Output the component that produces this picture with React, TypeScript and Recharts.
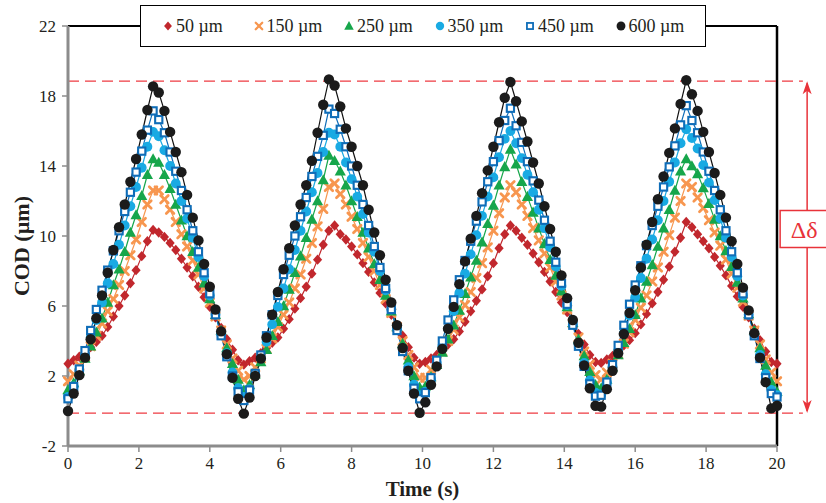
import React from 'react';
import { ComposedChart, Line, XAxis, YAxis, ReferenceLine, Legend } from 'recharts';

// Sampling instants (s)
const time = [
  0, 0.16, 0.32, 0.48, 0.64, 0.8, 0.96, 1.12, 1.28, 1.44, 1.6, 1.76, 1.92, 2.08, 2.24, 2.4,
  2.56, 2.72, 2.88, 3.04, 3.2, 3.36, 3.52, 3.68, 3.84, 4, 4.16, 4.32, 4.48, 4.64, 4.8, 4.96,
  5.12, 5.28, 5.44, 5.6, 5.76, 5.92, 6.08, 6.24, 6.4, 6.56, 6.72, 6.88, 7.04, 7.2, 7.36, 7.52,
  7.68, 7.84, 8, 8.16, 8.32, 8.48, 8.64, 8.8, 8.96, 9.12, 9.28, 9.44, 9.6, 9.76, 9.92,
  10.08, 10.24, 10.4, 10.56, 10.72, 10.88, 11.04, 11.2, 11.36, 11.52, 11.68, 11.84, 12, 12.16,
  12.32, 12.48, 12.64, 12.8, 12.96, 13.12, 13.28, 13.44, 13.6, 13.76, 13.92, 14.08, 14.24,
  14.4, 14.56, 14.72, 14.88,
  15.04, 15.2, 15.36, 15.52, 15.68, 15.84, 16, 16.16, 16.32, 16.48, 16.64, 16.8, 16.96,
  17.12, 17.28, 17.44, 17.6, 17.76, 17.92, 18.08, 18.24, 18.4, 18.56, 18.72, 18.88, 19.04,
  19.2, 19.36, 19.52, 19.68, 19.84, 20,
];

// COD (µm) for each crack length
const cod50 = [
  2.7, 2.9, 3.1, 3.35, 3.65, 3.95, 4.3, 4.8, 5.4, 6.0, 6.6, 7.3, 8.05, 8.85, 9.7, 10.35,
  10.2, 9.95, 9.6, 9.2, 8.7, 8.2, 7.7, 7.1, 6.5, 5.95, 5.35, 4.75, 4.1, 3.5, 2.9, 2.65,
  2.85, 3.05, 3.3, 3.6, 3.9, 4.2, 4.7, 5.25, 5.85, 6.45, 7.1, 7.85, 8.65, 9.5, 10.3, 10.6,
  10.1, 9.8, 9.4, 8.95, 8.45, 7.95, 7.35, 6.75, 6.15, 5.5, 4.9, 4.3, 3.65, 3.05, 2.7,
  2.8, 3.0, 3.2, 3.5, 3.8, 4.1, 4.55, 5.1, 5.7, 6.3, 6.95, 7.7, 8.45, 9.3, 10.1, 10.6,
  10.3, 9.9, 9.5, 9.0, 8.5, 7.95, 7.4, 6.8, 6.2, 5.65, 5.05, 4.4, 3.8, 3.2, 2.8,
  2.75, 2.95, 3.15, 3.45, 3.75, 4.05, 4.45, 4.95, 5.55, 6.15, 6.8, 7.5, 8.25, 9.1, 9.9, 10.8,
  10.5, 10.1, 9.7, 9.3, 8.8, 8.3, 7.75, 7.15, 6.55, 5.95, 5.35, 4.7, 4.05, 3.4, 2.8,
  2.7,
];

const cod150 = [
  1.7, 2.1, 2.6, 3.1, 3.7, 4.3, 5.0, 5.7, 6.4, 7.2, 8.0, 8.9, 9.8, 10.8, 11.8, 12.6,
  12.6, 12.1, 11.5, 10.8, 10.1, 9.4, 8.6, 7.8, 7.0, 6.2, 5.4, 4.6, 3.8, 3.0, 2.3, 1.8,
  2.0, 2.5, 3.0, 3.55, 4.15, 4.8, 5.5, 6.2, 7.0, 7.8, 8.7, 9.6, 10.55, 11.55, 12.8, 13.0,
  12.4, 11.8, 11.1, 10.4, 9.6, 8.8, 8.0, 7.2, 6.4, 5.6, 4.8, 4.0, 3.2, 2.5, 1.9,
  1.9, 2.35, 2.85, 3.4, 4.0, 4.65, 5.35, 6.05, 6.8, 7.6, 8.45, 9.35, 10.3, 11.3, 12.2, 12.9,
  12.5, 11.8, 11.15, 10.45, 9.75, 9.0, 8.2, 7.4, 6.6, 5.8, 5.0, 4.2, 3.4, 2.65, 2.05,
  1.8, 2.2, 2.7, 3.25, 3.85, 4.5, 5.2, 5.9, 6.6, 7.4, 8.2, 9.1, 10.05, 11.05, 12.0, 13.0,
  12.8, 12.2, 11.6, 10.9, 10.2, 9.45, 8.65, 7.85, 7.05, 6.25, 5.45, 4.6, 3.8, 2.95, 2.2,
  1.7,
];

const cod250 = [
  1.2, 1.6, 2.3, 3.0, 3.7, 4.5, 5.3, 6.2, 7.2, 8.1, 9.1, 10.2, 11.2, 12.3, 13.5, 14.4,
  14.2, 13.5, 12.7, 11.8, 10.9, 10.0, 9.1, 8.2, 7.3, 6.4, 5.5, 4.6, 3.6, 2.7, 1.8, 1.2,
  1.5, 2.1, 2.8, 3.5, 4.3, 5.1, 6.0, 6.95, 7.9, 8.85, 9.9, 10.95, 12.0, 13.2, 14.6, 14.3,
  13.7, 12.9, 12.0, 11.1, 10.2, 9.3, 8.4, 7.5, 6.6, 5.7, 4.8, 3.85, 2.9, 2.0, 1.35,
  1.4, 1.95, 2.65, 3.35, 4.1, 4.9, 5.75, 6.7, 7.65, 8.6, 9.65, 10.7, 11.75, 12.9, 13.95, 14.95,
  14.1, 13.1, 12.25, 11.35, 10.45, 9.55, 8.65, 7.75, 6.85, 5.95, 5.05, 4.1, 3.15, 2.25, 1.5,
  1.3, 1.8, 2.5, 3.2, 3.9, 4.7, 5.5, 6.45, 7.4, 8.35, 9.4, 10.45, 11.5, 12.6, 13.7, 14.4,
  14.0, 13.55, 12.75, 11.85, 10.95, 10.0, 9.15, 8.25, 7.35, 6.45, 5.55, 4.6, 3.6, 2.6, 1.65,
  1.1,
];

const cod350 = [
  0.8, 1.4, 2.3, 3.2, 4.2, 5.2, 6.2, 7.3, 8.4, 9.5, 10.6, 11.7, 12.8, 13.9, 15.1, 15.95,
  15.7, 14.9, 14.0, 13.0, 12.0, 11.0, 9.9, 8.8, 7.7, 6.6, 5.5, 4.4, 3.3, 2.2, 1.3, 0.8,
  1.25, 2.1, 3.0, 3.95, 4.95, 5.95, 7.0, 8.1, 9.2, 10.3, 11.4, 12.5, 13.6, 14.8, 15.9, 15.8,
  15.1, 14.2, 13.25, 12.25, 11.25, 10.2, 9.1, 8.0, 6.9, 5.8, 4.7, 3.6, 2.5, 1.5, 0.9,
  1.1, 1.85, 2.75, 3.7, 4.7, 5.7, 6.75, 7.85, 8.95, 10.05, 11.15, 12.25, 13.35, 14.5, 15.55, 16.0,
  15.3, 14.45, 13.5, 12.5, 11.5, 10.45, 9.35, 8.25, 7.15, 6.05, 4.95, 3.85, 2.75, 1.75, 1.05,
  0.95, 1.65, 2.5, 3.45, 4.45, 5.45, 6.5, 7.6, 8.7, 9.8, 10.9, 12.0, 13.1, 14.2, 15.3, 16.1,
  15.6, 15.0, 14.05, 13.05, 12.05, 11.0, 9.9, 8.8, 7.7, 6.6, 5.5, 4.4, 3.2, 2.1, 1.2,
  0.9,
];

const cod450 = [
  0.7, 1.4, 2.4, 3.45, 4.6, 5.8, 6.9, 8.05, 9.15, 10.3, 11.4, 12.5, 13.65, 14.85, 16.05, 17.15,
  16.65, 15.9, 14.8, 13.7, 12.6, 11.5, 10.3, 9.1, 7.9, 6.7, 5.5, 4.3, 3.1, 2.0, 1.1, 0.6,
  1.2, 2.15, 3.2, 4.3, 5.5, 6.6, 7.8, 8.9, 10.0, 11.1, 12.2, 13.4, 14.55, 15.75, 17.25, 17.0,
  16.1, 15.1, 14.0, 12.9, 11.8, 10.6, 9.4, 8.2, 7.0, 5.8, 4.6, 3.4, 2.3, 1.3, 0.7,
  1.05, 1.9, 2.9, 4.0, 5.2, 6.35, 7.5, 8.6, 9.7, 10.85, 11.95, 13.1, 14.25, 15.45, 16.6, 17.3,
  16.3, 15.35, 14.25, 13.15, 12.05, 10.9, 9.7, 8.5, 7.3, 6.1, 4.9, 3.7, 2.55, 1.55, 0.85,
  0.9, 1.65, 2.65, 3.75, 4.9, 6.1, 7.2, 8.3, 9.45, 10.6, 11.7, 12.8, 13.95, 15.15, 16.35, 17.45,
  16.6, 15.9, 14.8, 13.7, 12.6, 11.5, 10.3, 9.1, 7.9, 6.7, 5.5, 4.3, 3.0, 1.9, 1.0,
  0.8,
];

const cod600 = [
  0.0, 1.0, 2.05, 3.05, 4.1, 5.3, 6.6, 7.9, 9.2, 10.5, 11.8, 13.1, 14.4, 15.8, 17.2, 18.55,
  18.2, 17.15, 15.95, 14.8, 13.65, 12.35, 11.05, 9.75, 8.4, 7.1, 5.8, 4.55, 3.25, 1.9, 0.7, -0.15,
  0.77, 2.0, 3.0, 4.2, 5.5, 6.8, 8.1, 9.3, 10.6, 11.8, 12.9, 14.3, 15.9, 17.5, 18.95, 18.6,
  17.4, 16.15, 15.1, 14.0, 12.9, 11.5, 10.2, 8.9, 7.5, 6.2, 4.9, 3.6, 2.3, 1.0, -0.1,
  0.5, 1.5, 2.55, 3.55, 4.7, 5.95, 7.25, 8.55, 9.85, 11.15, 12.45, 13.75, 15.1, 16.5, 17.9, 18.8,
  17.7, 16.55, 15.4, 14.2, 13.0, 11.7, 10.4, 9.1, 7.75, 6.45, 5.2, 3.9, 2.6, 1.3, 0.3,
  0.25, 1.25, 2.3, 3.3, 4.4, 5.6, 6.9, 8.2, 9.5, 10.8, 12.1, 13.4, 14.75, 16.15, 17.55, 18.9,
  18.1, 17.15, 15.95, 14.8, 13.6, 12.35, 11.05, 9.7, 8.4, 7.05, 5.75, 4.45, 3.05, 1.65, 0.15,
  0.3,
];

const xTicks = [0, 2, 4, 6, 8, 10, 12, 14, 16, 18, 20];
const yTicks = [-2, 2, 6, 10, 14, 18, 22];
const codMax = 18.85;
const codMin = -0.12;
const deltaLabelLevel = 10.4;

const SERIF = '"Liberation Serif", "Times New Roman", serif';
const DASH_RED = '#EE3B42';

const series = [
  { key: 's50', name: '50 µm', values: cod50, color: '#C1272D', line: '#C1272D', shape: 'diamond' },
  { key: 's150', name: '150 µm', values: cod150, color: '#F7964F', line: '#F7964F', shape: 'cross' },
  { key: 's250', name: '250 µm', values: cod250, color: '#16A64B', line: '#16A64B', shape: 'triangle' },
  { key: 's350', name: '350 µm', values: cod350, color: '#19AAE3', line: '#19AAE3', shape: 'circle' },
  { key: 's450', name: '450 µm', values: cod450, color: '#0F6DB8', line: '#0F6DB8', shape: 'square' },
  { key: 's600', name: '600 µm', values: cod600, color: '#1B1B1B', line: '#111111', shape: 'dot' },
];

const rows = time.map((t, i) => {
  const r: Record<string, number> = { t };
  series.forEach((s) => {
    r[s.key] = s.values[i];
  });
  return r;
});

function MarkerShape({ shape, color, cx, cy, k = 1 }: { shape: string; color: string; cx: number; cy: number; k?: number }) {
  if (cx == null || cy == null || isNaN(cx) || isNaN(cy)) return <g />;
  switch (shape) {
    case 'diamond':
      return <polygon points={`${cx},${cy - 5.2 * k} ${cx + 4.6 * k},${cy} ${cx},${cy + 5.2 * k} ${cx - 4.6 * k},${cy}`} fill={color} />;
    case 'cross':
      return (
        <g stroke={color} strokeWidth={2.7 * k} strokeLinecap="round">
          <line x1={cx - 3.8 * k} y1={cy - 3.8 * k} x2={cx + 3.8 * k} y2={cy + 3.8 * k} />
          <line x1={cx - 3.8 * k} y1={cy + 3.8 * k} x2={cx + 3.8 * k} y2={cy - 3.8 * k} />
        </g>
      );
    case 'triangle':
      return <polygon points={`${cx},${cy - 5.8 * k} ${cx + 5.6 * k},${cy + 4.3 * k} ${cx - 5.6 * k},${cy + 4.3 * k}`} fill={color} />;
    case 'circle':
      return <circle cx={cx} cy={cy} r={4.9 * k} fill={color} />;
    case 'square':
      return <rect x={cx - 3.6 * k} y={cy - 3.6 * k} width={7.2 * k} height={7.2 * k} fill="#fff" stroke={color} strokeWidth={2.1 * k} />;
    case 'dot':
    default:
      return <circle cx={cx} cy={cy} r={5.2 * k} fill={color} />;
  }
}

function LegendBox() {
  return (
    <div
      style={{
        boxSizing: 'border-box',
        width: 566,
        height: 42,
        border: '1.6px solid #000',
        background: '#fff',
        display: 'flex',
        alignItems: 'center',
        paddingLeft: 21,
        fontFamily: SERIF,
        fontSize: 18,
        color: '#231F20',
      }}
    >
      {series.map((s) => (
        <div key={s.key} style={{ width: 92.7, display: 'flex', alignItems: 'center', whiteSpace: 'nowrap' }}>
          <svg width={12} height={12} style={{ marginRight: 2, overflow: 'visible' }}>
            <MarkerShape shape={s.shape} color={s.color} cx={6} cy={6} k={0.85} />
          </svg>
          <span>{s.name}</span>
        </div>
      ))}
    </div>
  );
}

function DeltaArrow(p: any) {
  const { x1, y1, x2, y2 } = p;
  if ([x1, y1, x2, y2].some((v) => v == null || isNaN(v))) return <g />;
  const x = x1;
  const top = Math.min(y1, y2);
  const bot = Math.max(y1, y2);
  const frac = (deltaLabelLevel - codMin) / (codMax - codMin);
  const boxCy = bot + (top - bot) * frac;
  const c = '#E8333A';
  return (
    <g>
      <line x1={x} y1={top + 2} x2={x} y2={bot - 2} stroke={c} strokeWidth={1.5} />
      <polygon points={`${x},${top} ${x - 4.5},${top + 13} ${x},${top + 9.5} ${x + 4.5},${top + 13}`} fill={c} />
      <polygon points={`${x},${bot} ${x - 4.5},${bot - 13} ${x},${bot - 9.5} ${x + 4.5},${bot - 13}`} fill={c} />
      <rect x={x - 27} y={boxCy - 18.5} width={54} height={37} fill="#fff" stroke={c} strokeWidth={1.5} />
      <text x={x - 3} y={boxCy + 1} textAnchor="middle" dominantBaseline="central" fontFamily={SERIF} fontSize={24} fill={c}>
        Δδ
      </text>
    </g>
  );
}

const YTitle = (props: any) => {
  const vb = props.viewBox || { x: 8, y: 26, width: 60, height: 420 };
  const x = vb.x + 13;
  const y = vb.y + vb.height / 2 + 10;
  return (
    <text x={x} y={y} transform={`rotate(-90, ${x}, ${y})`} textAnchor="middle" dominantBaseline="central"
      fontFamily={SERIF} fontWeight="bold" fontSize={22} fill="#231F20">
      COD (µm)
    </text>
  );
};

const XTitle = (props: any) => {
  const vb = props.viewBox || { x: 68, y: 446, width: 709, height: 50 };
  const x = vb.x + vb.width / 2;
  const y = vb.y + 43;
  return (
    <text x={x} y={y} textAnchor="middle" dominantBaseline="central" fontFamily={SERIF} fontWeight="bold" fontSize={21} fill="#231F20">
      Time (s)
    </text>
  );
};

export default function App() {
  const tickStyle = { fontFamily: SERIF, fontSize: 17, fill: '#231F20' };
  return (
    <div style={{ position: 'absolute', left: 0, top: 0, width: 826, height: 503, background: '#fff' }}>
      <ComposedChart width={826} height={503} data={rows} margin={{ top: 26, right: 49, bottom: 7, left: 8 }}>
        <XAxis
          dataKey="t"
          type="number"
          domain={[0, 20]}
          ticks={xTicks}
          interval={0}
          height={50}
          tick={tickStyle}
          tickSize={6}
          tickMargin={5}
          axisLine={{ stroke: '#8C8C8C', strokeWidth: 3 }}
          tickLine={{ stroke: '#8C8C8C', strokeWidth: 1.5 }}
          label={<XTitle />}
        />
        <YAxis
          type="number"
          domain={[-2, 22]}
          ticks={yTicks}
          interval={0}
          width={60}
          tick={tickStyle}
          tickSize={6}
          tickMargin={6}
          axisLine={{ stroke: '#8C8C8C', strokeWidth: 3 }}
          tickLine={{ stroke: '#8C8C8C', strokeWidth: 1.5 }}
          label={<YTitle />}
        />
        <ReferenceLine y={22} stroke="#000" strokeWidth={2} />
        <ReferenceLine x={20} stroke="#000" strokeWidth={2.5} />
        <ReferenceLine
          segment={[{ x: 0, y: codMax }, { x: 20.73, y: codMax }]}
          ifOverflow="visible"
          stroke={DASH_RED}
          strokeWidth={1.4}
          strokeDasharray="11 6"
        />
        <ReferenceLine
          segment={[{ x: 0, y: codMin }, { x: 20.73, y: codMin }]}
          ifOverflow="visible"
          stroke={DASH_RED}
          strokeWidth={1.4}
          strokeDasharray="11 6"
        />
        <ReferenceLine
          segment={[{ x: 20.85, y: codMin }, { x: 20.85, y: codMax }]}
          ifOverflow="visible"
          stroke="#E8333A"
          shape={DeltaArrow}
        />
        {series.map((s) => (
          <Line
            key={`m-${s.key}`}
            type="linear"
            dataKey={s.key}
            stroke="none"
            isAnimationActive={false}
            activeDot={false}
            legendType="none"
            dot={(p: any) => <MarkerShape key={`${s.key}-${p.index}`} shape={s.shape} color={s.color} cx={p.cx} cy={p.cy} />}
          />
        ))}
        {series.map((s) => (
          <Line
            key={`l-${s.key}`}
            type="linear"
            dataKey={s.key}
            stroke={s.line}
            strokeWidth={1.2}
            dot={false}
            activeDot={false}
            legendType="none"
            isAnimationActive={false}
          />
        ))}
        <Legend
          layout="horizontal"
          verticalAlign="middle"
          align="center"
          wrapperStyle={{ left: 140, top: 5, width: 566, height: 42 }}
          content={() => <LegendBox />}
        />
      </ComposedChart>
    </div>
  );
}
